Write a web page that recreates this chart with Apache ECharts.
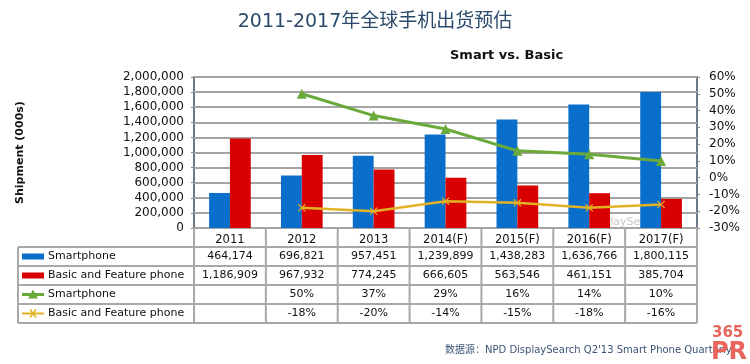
<!DOCTYPE html>
<html><head><meta charset="utf-8">
<script src="https://cdn.jsdelivr.net/npm/echarts@6/dist/echarts.min.js"></script>
<style>html,body{margin:0;padding:0;background:#fff}#c{width:750px;height:364px}</style>
</head><body><div id="c"></div>
<script>
// ---- data ----
const categories = ['2011', '2012', '2013', '2014(F)', '2015(F)', '2016(F)', '2017(F)'];
const smartphone = [464174, 696821, 957451, 1239899, 1438283, 1636766, 1800115];
const basicPhone = [1186909, 967932, 774245, 666605, 563546, 461151, 385704];
const smartGrowth = [null, 50, 37, 29, 16, 14, 10];
const basicGrowth = [null, -18, -20, -14, -15, -18, -16];
const rowNames = ['Smartphone', 'Basic and Feature phone', 'Smartphone', 'Basic and Feature phone'];
const titleText = '2011-2017年全球手机出货预估';
const subtitleText = 'Smart vs. Basic';
const yAxisName = 'Shipment (000s)';
const sourceText = '数据源：NPD DisplaySearch Q2\'13 Smart Phone Quarterly';

// ---- style ----
const FONT = 'DejaVu Sans, Verdana, sans-serif';
const BLUE = '#0A6FCB', RED = '#D80000', GREEN = '#6AAA3A', YELLOW = '#E2B224';
const GRID = { left: 194, top: 77, width: 503, height: 151 };
const TABLE_LEFT = 18, ROW_H = 19, HEADER_H = 19;
const LINE_C = '#A8A8A8';

const fmt = v => v == null ? '' : v.toString().replace(/\B(?=(\d{3})+(?!\d))/g, ',');
const pct = v => v == null ? '' : v + '%';
const xMark = 'path://M0,1L1,0L5,4L9,0L10,1L6,5L10,9L9,10L5,6L1,10L0,9L4,5Z';

const chart = echarts.init(document.getElementById('c'), null, { renderer: 'canvas' });
const option = {
  animation: false,
  backgroundColor: '#fff',
  title: [
    { text: titleText, left: 'center', top: 8,
      textStyle: { fontFamily: 'DejaVu Sans, Noto Sans CJK SC', fontSize: 19, fontWeight: 'normal', color: '#2C4A6B' } },
    { text: subtitleText, left: 445, top: 44,
      textStyle: { fontFamily: FONT, fontSize: 13, fontWeight: 'bold', color: '#111' } }
  ],
  grid: { left: GRID.left, top: GRID.top, width: GRID.width, height: GRID.height,
    show: true, borderColor: '#6A7A8A', borderWidth: 2, backgroundColor: '#fff' },
  xAxis: {
    type: 'category', data: categories,
    axisLine: { show: false }, axisTick: { show: false },
    axisLabel: { color: '#111', fontFamily: FONT, fontSize: 11.5, margin: 6 }
  },
  yAxis: [
    { type: 'value', min: 0, max: 2000000, interval: 200000,
      name: yAxisName, nameLocation: 'middle', nameGap: 168, nameRotate: 90,
      nameTextStyle: { fontFamily: FONT, fontSize: 11, fontWeight: 'bold', color: '#111' },
      axisLine: { show: false },
      axisTick: { show: true, length: 3, lineStyle: { color: '#888' } },
      axisLabel: { formatter: v => fmt(v), fontFamily: FONT, fontSize: 12, color: '#111', margin: 10 },
      splitLine: { show: true, lineStyle: { color: '#A4A4A4', width: 2 } } },
    { type: 'value', min: -30, max: 60, interval: 10, position: 'right',
      axisLine: { show: false },
      axisTick: { show: true, length: 3, lineStyle: { color: '#888' } },
      axisLabel: { formatter: '{value}%', fontFamily: FONT, fontSize: 12, color: '#111', margin: 12 },
      splitLine: { show: false } }
  ],
  series: [
    { name: rowNames[0], type: 'bar', data: smartphone, yAxisIndex: 0,
      itemStyle: { color: BLUE }, barGap: '0%', barCategoryGap: '42%', z: 3 },
    { name: rowNames[1], type: 'bar', data: basicPhone, yAxisIndex: 0,
      itemStyle: { color: RED }, z: 3 },
    { name: rowNames[2], type: 'line', data: smartGrowth, yAxisIndex: 1,
      lineStyle: { color: GREEN, width: 3 }, itemStyle: { color: GREEN },
      symbol: 'triangle', symbolSize: 10, z: 5 },
    { name: rowNames[3], type: 'line', data: basicGrowth, yAxisIndex: 1,
      lineStyle: { color: YELLOW, width: 2.5 }, itemStyle: { color: YELLOW },
      symbol: xMark, symbolSize: 8, z: 5 }
  ]
};
chart.setOption(option);

// ---- data table built from the chart's own category scale ----
const cx = categories.map((c, i) => chart.convertToPixel({ xAxisIndex: 0 }, i));
const step = cx[1] - cx[0];
const x0 = cx[0] - step / 2;
const xEnd = cx[cx.length - 1] + step / 2;
const yTop = GRID.top + GRID.height;
const yRow0 = yTop + HEADER_H;
const yBottom = yRow0 + ROW_H * 4;
const g = [];
const line = (x1, y1, x2, y2) => g.push({ type: 'line', shape: { x1, y1, x2, y2 },
  style: { stroke: LINE_C, lineWidth: 2 }, z: 10 });
for (let r = 0; r <= 4; r++) line(TABLE_LEFT, yRow0 + r * ROW_H, xEnd, yRow0 + r * ROW_H);
line(TABLE_LEFT, yRow0, TABLE_LEFT, yBottom);
for (let i = 0; i <= categories.length; i++) line(x0 + i * step, yTop, x0 + i * step, yBottom);

const rows = [smartphone.map(fmt), basicPhone.map(fmt), smartGrowth.map(pct), basicGrowth.map(pct)];
rows.forEach((vals, r) => {
  const yc = yRow0 + r * ROW_H + ROW_H / 2;
  vals.forEach((t, i) => g.push({ type: 'text', x: cx[i], y: yc, z: 11,
    style: { text: t, fill: '#111', font: '11px ' + FONT, textAlign: 'center', textVerticalAlign: 'middle' } }));
  g.push({ type: 'text', x: 48, y: yc, z: 11,
    style: { text: rowNames[r], fill: '#111', font: '11px ' + FONT, textAlign: 'left', textVerticalAlign: 'middle' } });
});
// legend keys
let yc = yRow0 + ROW_H / 2;
g.push({ type: 'rect', shape: { x: 22, y: yc - 3, width: 22, height: 6 }, style: { fill: BLUE }, z: 11 });
yc += ROW_H;
g.push({ type: 'rect', shape: { x: 22, y: yc - 3, width: 22, height: 6 }, style: { fill: RED }, z: 11 });
yc += ROW_H;
g.push({ type: 'line', shape: { x1: 22, y1: yc, x2: 44, y2: yc }, style: { stroke: GREEN, lineWidth: 3 }, z: 11 });
g.push({ type: 'polygon', shape: { points: [[33, yc - 5], [38, yc + 4], [28, yc + 4]] }, style: { fill: GREEN }, z: 11 });
yc += ROW_H;
g.push({ type: 'line', shape: { x1: 22, y1: yc, x2: 44, y2: yc }, style: { stroke: YELLOW, lineWidth: 2 }, z: 11 });
g.push({ type: 'line', shape: { x1: 30, y1: yc - 4, x2: 36, y2: yc + 4 }, style: { stroke: YELLOW, lineWidth: 1.5 }, z: 11 });
g.push({ type: 'line', shape: { x1: 36, y1: yc - 4, x2: 30, y2: yc + 4 }, style: { stroke: YELLOW, lineWidth: 1.5 }, z: 11 });

// watermark
g.push({ type: 'text', x: 586, y: 222, z: 1, style: { text: 'DisplaySearch', fill: '#C8C8C8', font: '11px ' + FONT, textVerticalAlign: 'middle' } });
// source
g.push({ type: 'text', x: 445, y: 350, z: 11, style: { text: sourceText, fill: '#3A5476', font: '10px DejaVu Sans, Noto Sans CJK SC', textVerticalAlign: 'middle' } });
// logo
g.push({ type: 'text', x: 712, y: 333, z: 12, style: { text: '365', fill: '#E8655C', font: 'bold 15px ' + FONT, textVerticalAlign: 'middle' } });
g.push({ type: 'text', x: 711, y: 353, z: 12, style: { text: 'PR', fill: '#E8655C', font: 'bold 24px ' + FONT, textVerticalAlign: 'middle' } });

chart.setOption({ graphic: { elements: g } });
</script>
</body></html>
